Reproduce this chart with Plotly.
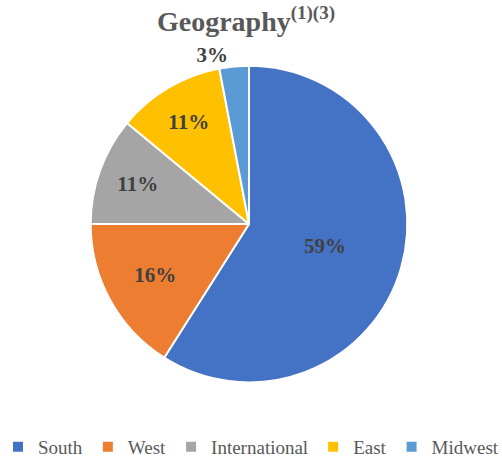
import plotly.graph_objects as go

categories = ["South", "West", "International", "East", "Midwest"]
values = [59, 16, 11, 11, 3]
colors = ["#4472C4", "#ED7D31", "#A5A5A5", "#FFC000", "#5B9BD5"]
text_pos = ["inside", "inside", "inside", "inside", "outside"]

SERIF = "'Liberation Serif', 'Times New Roman', Times, serif"

fig = go.Figure(go.Pie(
    labels=categories,
    values=values,
    sort=False,
    direction="clockwise",
    rotation=0,
    marker=dict(colors=colors, line=dict(color="white", width=2)),
    texttemplate="<b>%{value}%</b>",
    textposition=text_pos,
    insidetextorientation="horizontal",
    textfont=dict(family=SERIF, size=21, color="#404040"),
    hoverinfo="label+percent",
    domain=dict(x=[0.1793, 0.8127], y=[0.176, 0.8584]),
))

fig.update_layout(
    width=502, height=466,
    margin=dict(l=0, r=0, t=0, b=0),
    paper_bgcolor="white",
    title=dict(
        text="<b>Geography<sup><span style='font-size:19px'>(1)(3)</span></sup></b>",
        x=0.49, xanchor="center", y=0.975, yanchor="top",
        font=dict(family=SERIF, size=28, color="#595959"),
    ),
    legend=dict(
        orientation="h", x=0.5, xanchor="center", y=-0.005, yanchor="bottom",
        font=dict(family=SERIF, size=19, color="#595959"),
        itemwidth=30,
    ),
    showlegend=True,
)

fig.write_html("out.html", config={"displayModeBar": False},
               post_script="document.body.style.margin='0';")
